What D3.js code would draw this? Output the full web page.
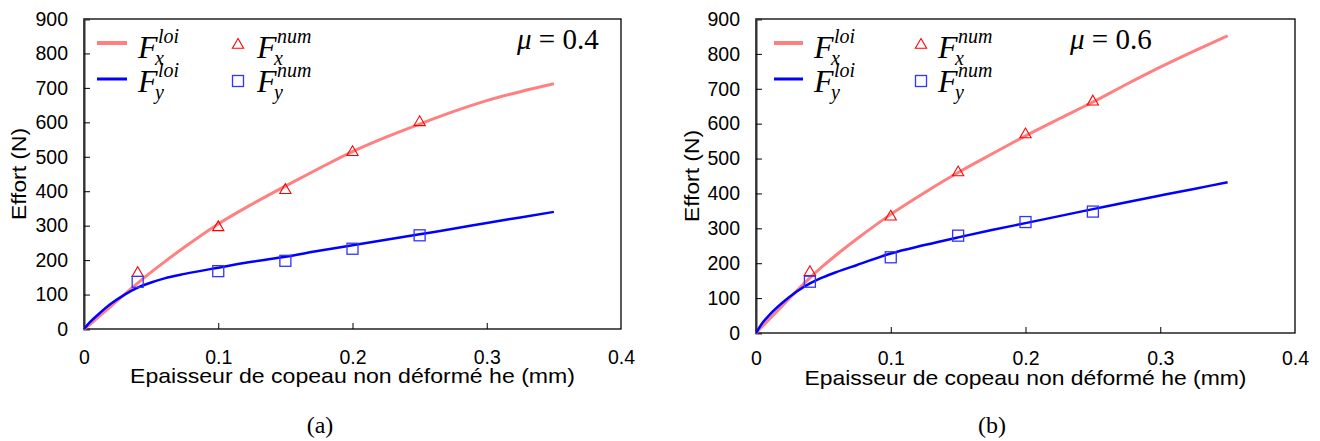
<!DOCTYPE html>
<html><head><meta charset="utf-8">
<script src="https://cdn.jsdelivr.net/npm/d3@7"></script>
<style>body{margin:0;background:#fff}svg{display:block}</style>
</head><body>
<svg id="c" width="1320" height="441"></svg>
<script>
// ---- data ----
const xTicks = [0, 0.1, 0.2, 0.3, 0.4];
const yTicks = [0, 100, 200, 300, 400, 500, 600, 700, 800, 900];
const xTitle = "Epaisseur de copeau non déformé he (mm)";
const yTitle = "Effort (N)";

const curveX = [0, 0.005, 0.01, 0.02, 0.03, 0.04, 0.05, 0.06, 0.075, 0.1, 0.125, 0.15, 0.175, 0.2, 0.225, 0.25, 0.275, 0.3, 0.325, 0.35];
// mu = 0.4
const fxLoiA = [0, 15, 32, 66, 100, 133, 165, 195, 238, 305, 362, 415, 466, 515, 557, 595, 631, 663, 689, 712];
const fyLoiA = [0, 22, 40, 73, 99, 120, 135, 147, 160, 178, 195, 210, 227, 243, 259, 275, 291, 308, 324, 340];
// mu = 0.6
const fxLoiB = [0, 20, 40, 80, 120, 158, 193, 225, 270, 340, 402, 460, 513, 565, 614, 662, 713, 762, 808, 852];
const fyLoiB = [0, 30, 52, 88, 118, 142, 160, 175, 195, 228, 252, 274, 295, 315, 335, 355, 375, 394, 413, 432];

const numX = [0.04, 0.1, 0.15, 0.2, 0.25];
const fxNumA = [162, 295, 403, 513, 600];
const fyNumA = [137, 168, 198, 233, 272];
const fxNumB = [174, 333, 460, 569, 663];
const fyNumB = [147, 217, 279, 318, 348];

const panels = [
  {L:84, R:621, T:19, B:329, fxLoi:fxLoiA, fyLoi:fyLoiA, fxNum:fxNumA, fyNum:fyNumA,
   mu:"0.4", muX:517, cap:"(a)", capX:320, yTitleX:26, xLabY:364, xtY:383, xtW:445,
   leg:{l0:97, l1:127, F:138, mk:238, F2:257}},
  {L:756, R:1295, T:19, B:333, fxLoi:fxLoiB, fyLoi:fyLoiB, fxNum:fxNumB, fyNum:fyNumB,
   mu:"0.6", muX:1070, cap:"(b)", capX:992, yTitleX:699, xLabY:365, xtY:385, xtW:442,
   leg:{l0:774, l1:803, F:814, mk:921, F2:938}}
];

const svg = d3.select("#c");
const pink = "#ff8080", blue = "#0000ff", red = "#ff0000", sqBlue = "#3333ff";
const sans = "'Liberation Sans', Arial, sans-serif";
const serif = "'Liberation Serif', 'Times New Roman', Times, serif";

panels.forEach(p => {
  const x = d3.scaleLinear().domain([0, 0.4]).range([p.L, p.R]);
  const y = d3.scaleLinear().domain([0, 900]).range([p.B, p.T]);
  const g = svg.append("g");

  // frame
  g.append("rect").attr("x", p.L).attr("y", p.T).attr("width", p.R - p.L).attr("height", p.B - p.T)
    .attr("fill", "none").attr("stroke", "#000").attr("stroke-width", 1.3);

  // axes with inward ticks
  const xa = g.append("g").attr("transform", `translate(0,${p.B})`)
    .call(d3.axisBottom(x).tickValues(xTicks).tickSize(-6).tickPadding(0).tickFormat(d => d === 0 ? "0" : d3.format(".1f")(d)));
  xa.select(".domain").remove();
  xa.selectAll(".tick line").attr("stroke", "#000").attr("stroke-width", 1)
    .attr("display", d => (d === 0 || d === 0.4) ? "none" : null);
  xa.selectAll("text").attr("font-family", sans).attr("font-size", 19.5).attr("fill", "#000")
    .attr("dy", null).attr("y", p.xLabY - p.B);

  const ya = g.append("g").attr("transform", `translate(${p.L},0)`)
    .call(d3.axisLeft(y).tickValues(yTicks).tickSize(-6).tickPadding(16));
  ya.select(".domain").attr("stroke", "#333").attr("stroke-width", 2);
  ya.selectAll(".tick line").attr("stroke", "#000").attr("stroke-width", 1)
    .attr("display", d => (d === 0 || d === 900) ? "none" : null);
  ya.selectAll("text").attr("font-family", sans).attr("font-size", 19.5).attr("fill", "#000");

  // axis titles
  g.append("text").attr("x", (p.L + p.R) / 2).attr("y", p.xtY).attr("text-anchor", "middle")
    .attr("font-family", sans).attr("font-size", 21).attr("textLength", p.xtW).attr("lengthAdjust", "spacingAndGlyphs").text(xTitle);
  g.append("text").attr("transform", `translate(${p.yTitleX},${(p.T + p.B) / 2}) rotate(-90)`)
    .attr("text-anchor", "middle").attr("font-family", sans).attr("font-size", 21)
    .attr("textLength", 92).attr("lengthAdjust", "spacingAndGlyphs").text(yTitle);

  // curves
  const line = d3.line().x(d => x(d[0])).y(d => y(d[1])).curve(d3.curveMonotoneX);
  g.append("path").datum(curveX.map((v, i) => [v, p.fxLoi[i]])).attr("d", line)
    .attr("fill", "none").attr("stroke", pink).attr("stroke-width", 3);
  g.append("path").datum(curveX.map((v, i) => [v, p.fyLoi[i]])).attr("d", line)
    .attr("fill", "none").attr("stroke", blue).attr("stroke-width", 2.5);

  // markers
  const tri = d3.symbol().type(d3.symbolTriangle).size(55);
  g.selectAll(".tri").data(numX.map((v, i) => [v, p.fxNum[i]])).join("path")
    .attr("transform", d => `translate(${x(d[0])},${y(d[1])})`).attr("d", tri)
    .attr("fill", "none").attr("stroke", red).attr("stroke-width", 1.1);
  g.selectAll(".sq").data(numX.map((v, i) => [v, p.fyNum[i]])).join("rect")
    .attr("x", d => x(d[0]) - 5.5).attr("y", d => y(d[1]) - 5.5).attr("width", 11).attr("height", 11)
    .attr("fill", "none").attr("stroke", sqBlue).attr("stroke-width", 1.3);

  // legend
  const lg = p.leg;
  g.append("line").attr("x1", lg.l0).attr("x2", lg.l1).attr("y1", 43).attr("y2", 43).attr("stroke", pink).attr("stroke-width", 4);
  g.append("line").attr("x1", lg.l0).attr("x2", lg.l1).attr("y1", 79).attr("y2", 79).attr("stroke", blue).attr("stroke-width", 3);
  g.append("path").attr("transform", `translate(${lg.mk},45)`).attr("d", tri).attr("fill", "none").attr("stroke", red).attr("stroke-width", 1.1);
  g.append("rect").attr("x", lg.mk - 5.5).attr("y", 75.5).attr("width", 11).attr("height", 11).attr("fill", "none").attr("stroke", sqBlue).attr("stroke-width", 1.3);

  const sym = (fx, baseY, sup, sub) => {
    const t = g.append("text").attr("x", fx).attr("y", baseY).attr("font-family", serif)
      .attr("font-style", "italic").attr("fill", "#000").attr("font-size", 32);
    t.append("tspan").text("F");
    t.append("tspan").attr("font-size", 20).attr("x", fx + 20).attr("y", baseY - 15).text(sup);
    t.append("tspan").attr("font-size", 20).attr("x", fx + 17).attr("y", baseY + 7).text(sub);
  };
  sym(lg.F, 58, "loi", "x");
  sym(lg.F, 92, "loi", "y");
  sym(lg.F2, 58, "num", "x");
  sym(lg.F2, 92, "num", "y");

  // mu label
  const mu = g.append("text").attr("x", p.muX).attr("y", 49).attr("font-family", serif).attr("font-size", 29).attr("fill", "#000");
  mu.append("tspan").attr("font-style", "italic").text("μ");
  mu.append("tspan").text(" = " + p.mu);

  // caption
  g.append("text").attr("x", p.capX).attr("y", 433).attr("text-anchor", "middle")
    .attr("font-family", serif).attr("font-size", 24).text(p.cap);
});
</script>
</body></html>
